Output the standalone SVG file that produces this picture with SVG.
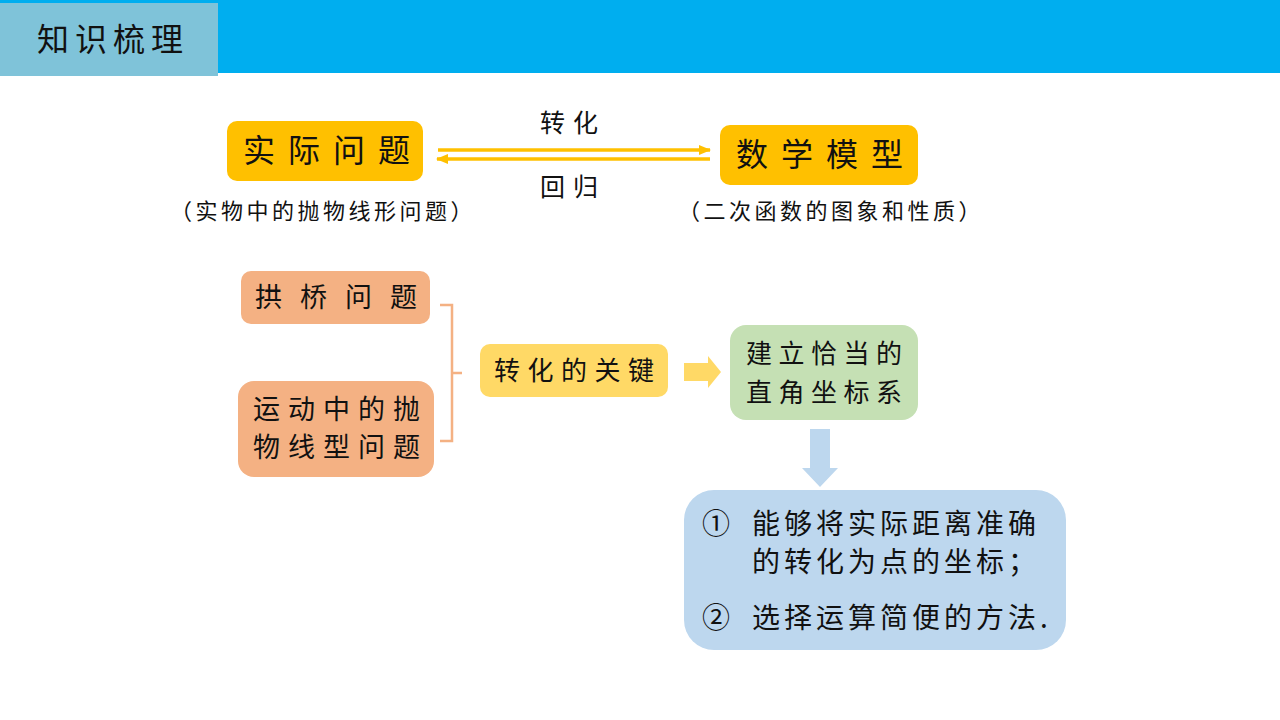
<svg xmlns="http://www.w3.org/2000/svg" width="1280" height="720" viewBox="0 0 1280 720">
<style>
.t{font-family:"Noto Sans CJK SC","Noto Sans",sans-serif;fill:#111}
</style>
<defs>
<marker id="ah" markerWidth="12" markerHeight="10" refX="11" refY="5" orient="auto" markerUnits="userSpaceOnUse"><path d="M0,0 L12,5 L0,10 Z" fill="#FFC000"/></marker>
</defs>
<rect x="0" y="0" width="1280" height="720" fill="#fff"/>
<g id="header">
<rect x="0" y="0" width="1280" height="73" fill="#00AEEF"/>
<rect x="0" y="3" width="218" height="73" fill="#7FC3D9"/>
<text class="t" x="37" y="51" font-size="32" letter-spacing="6">知识梳理</text>
</g>
<g id="connectors">
<line x1="438" y1="150" x2="710" y2="150" stroke="#FFC000" stroke-width="3.5" marker-end="url(#ah)"/>
<line x1="710" y1="159" x2="437" y2="159" stroke="#FFC000" stroke-width="3.5" marker-end="url(#ah)"/>
<path d="M440,305 H452 V441 H440 M452,373 H462" fill="none" stroke="#F4B183" stroke-width="2.5"/>
<path d="M684,363 H708 V356 L721,372 L708,388 V381 H684 Z" fill="#FFD966"/>
<path d="M810,429 H830 V468 H838 L820,487 L802,468 H810 Z" fill="#BDD7EE"/>
</g>
<g id="label-zhuanhua"><text class="t" x="540" y="132" font-size="25" letter-spacing="8">转化</text></g>
<g id="label-huigui"><text class="t" x="540" y="196" font-size="25" letter-spacing="8">回归</text></g>
<g id="node-shiji">
<rect x="227" y="121" width="196" height="60" rx="10" fill="#FFC000"/>
<text class="t" x="243" y="162" font-size="32" letter-spacing="13">实际问题</text>
<text class="t" x="170" y="219" font-size="22" letter-spacing="3.5">（实物中的抛物线形问题）</text>
</g>
<g id="node-shuxue">
<rect x="720" y="125" width="198" height="60" rx="10" fill="#FFC000"/>
<text class="t" x="736" y="166" font-size="32" letter-spacing="13">数学模型</text>
<text class="t" x="678" y="219" font-size="22" letter-spacing="3.5">（二次函数的图象和性质）</text>
</g>
<g id="node-gongqiao">
<rect x="241" y="271" width="189" height="53" rx="10" fill="#F4B183"/>
<text class="t" x="255" y="307" font-size="27" letter-spacing="18">拱桥问题</text>
</g>
<g id="node-yundong">
<rect x="238" y="381" width="196" height="96" rx="16" fill="#F4B183"/>
<text class="t" x="253" y="419" font-size="27" letter-spacing="8">运动中的抛</text>
<text class="t" x="253" y="457" font-size="27" letter-spacing="8">物线型问题</text>
</g>
<g id="node-guanjian">
<rect x="480" y="344" width="188" height="53" rx="10" fill="#FFD966"/>
<text class="t" x="494" y="380" font-size="26" letter-spacing="7.5">转化的关键</text>
</g>
<g id="node-jianli">
<rect x="730" y="325" width="188" height="95" rx="16" fill="#C5E0B4"/>
<text class="t" x="746" y="363" font-size="26" letter-spacing="6.5">建立恰当的</text>
<text class="t" x="746" y="402" font-size="26" letter-spacing="6.5">直角坐标系</text>
</g>
<g id="node-fangfa">
<rect x="684" y="490" width="382" height="160" rx="30" fill="#BDD7EE"/>
<text class="t" x="702" y="534" font-size="28">①</text>
<text class="t" x="752" y="534" font-size="28" letter-spacing="4">能够将实际距离准确</text>
<text class="t" x="752" y="572" font-size="28" letter-spacing="4">的转化为点的坐标；</text>
<text class="t" x="702" y="628" font-size="28">②</text>
<text class="t" x="752" y="628" font-size="28" letter-spacing="4">选择运算简便的方法.</text>
</g>
</svg>
